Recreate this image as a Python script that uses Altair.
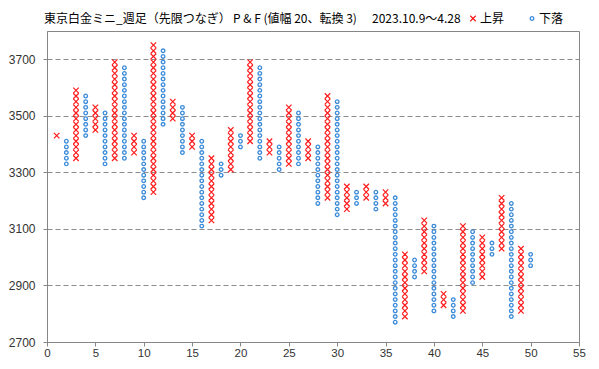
import altair as alt
import pandas as pd

BOX = 20  # box size (値幅)

columns = list(range(1, 51))
kinds = ["X", "O", "X", "O", "X", "O", "X", "O", "X", "O",
         "X", "O", "X", "O", "X", "O", "X", "O", "X", "O",
         "X", "O", "X", "O", "X", "O", "X", "O", "X", "O",
         "X", "O", "X", "O", "X", "O", "X", "O", "X", "O",
         "X", "O", "X", "O", "X", "O", "X", "O", "X", "O"]
lows = [3430, 3330, 3350, 3430, 3450, 3330, 3350, 3350, 3370, 3210,
        3230, 3470, 3490, 3370, 3390, 3110, 3130, 3290, 3310, 3390,
        3410, 3350, 3370, 3310, 3330, 3330, 3350, 3190, 3210, 3150,
        3170, 3190, 3210, 3170, 3190, 2770, 2790, 2930, 2950, 2810,
        2830, 2790, 2810, 2910, 2930, 3010, 3030, 2790, 2810, 2970]
highs = [3430, 3410, 3590, 3570, 3530, 3510, 3690, 3670, 3430, 3410,
         3750, 3730, 3550, 3530, 3430, 3410, 3350, 3330, 3450, 3430,
         3690, 3670, 3410, 3390, 3530, 3510, 3410, 3390, 3570, 3550,
         3250, 3230, 3250, 3230, 3230, 3210, 3010, 2990, 3130, 3110,
         2870, 2850, 3110, 3090, 3070, 3050, 3210, 3190, 3030, 3010]

x_ticks = list(range(0, 56, 5))
y_ticks = [2700, 2900, 3100, 3300, 3500, 3700]

rows = []
for c, k, lo, hi in zip(columns, kinds, lows, highs):
    for v in range(lo, hi + 1, BOX):
        rows.append({"col": c, "kind": k, "price": v})
df = pd.DataFrame(rows)

GRAY = "#868686"
RED = "#FF1A1A"
BLUE = "#3B8BD9"
FONT = "Noto Sans CJK JP"
AXFONT = "Liberation Sans"

xenc = alt.X("col:Q", scale=alt.Scale(domain=[0, 55], nice=False, zero=False),
             axis=alt.Axis(values=x_ticks, format="d", grid=False, tickSize=4, labelPadding=1,
                           domainColor=GRAY, tickColor=GRAY, labelColor="#333333",
                           labelFontSize=11.5, labelFont=AXFONT, title=None,
                           labelFlush=False, labelOverlap=False))
yenc = alt.Y("price:Q", scale=alt.Scale(domain=[2700, 3800], nice=False, zero=False),
             axis=alt.Axis(values=y_ticks, format="d", grid=True, gridDash=[5, 3],
                           gridColor="#8C8C8C", tickSize=4, labelPadding=8,
                           domainColor=GRAY, tickColor=GRAY,
                           labelColor="#333333", labelFontSize=12, labelFont=AXFONT,
                           title=None, labelFlush=False, labelOverlap=False))

base = alt.Chart(df)
xs = base.transform_filter(alt.datum.kind == "X").mark_point(
    shape="M-1,-1L1,1M-1,1L1,-1", size=30, strokeWidth=1.2, color=RED,
    filled=False, opacity=1).encode(x=xenc, y=yenc)
os_ = base.transform_filter(alt.datum.kind == "O").mark_point(
    shape="circle", size=13, strokeWidth=1.3, color=BLUE,
    filled=False, opacity=1).encode(x=xenc, y=yenc)

one = pd.DataFrame({"a": [0]})

def label(txt, x, color="#000000", align="left", size=12):
    return alt.Chart(one).mark_text(text=txt, font=FONT, fontSize=size, color=color,
                                    align=align, baseline="middle").encode(
        x=alt.value(x), y=alt.value(-12.5))

t1 = label("東京白金ミニ_週足（先限つなぎ）", -3)
t2 = label("P & F (値幅 20、転換 3)", 186)
t3 = label("2023.10.9～4.28", 325)
lx = alt.Chart(one).mark_point(shape="M-1,-1L1,1M-1,1L1,-1", size=30, strokeWidth=1.2,
                               color=RED, filled=False, opacity=1).encode(
    x=alt.value(426), y=alt.value(-12.5))
l1 = label("上昇", 433)
lo_ = alt.Chart(one).mark_point(shape="circle", size=13, strokeWidth=1.3, color=BLUE,
                                filled=False, opacity=1).encode(
    x=alt.value(485), y=alt.value(-12.5))
l2 = label("下落", 492)

chart = alt.layer(xs, os_, t1, t2, t3, lx, l1, lo_, l2).properties(
    width=532, height=311,
    autosize=alt.AutoSizeParams(type="none"),
    padding={"left": 39, "top": 23, "right": 12, "bottom": 19},
    background="white",
).configure_view(stroke=GRAY, strokeWidth=1)

chart.save("out.html", embed_options={"renderer": "svg", "actions": False})
